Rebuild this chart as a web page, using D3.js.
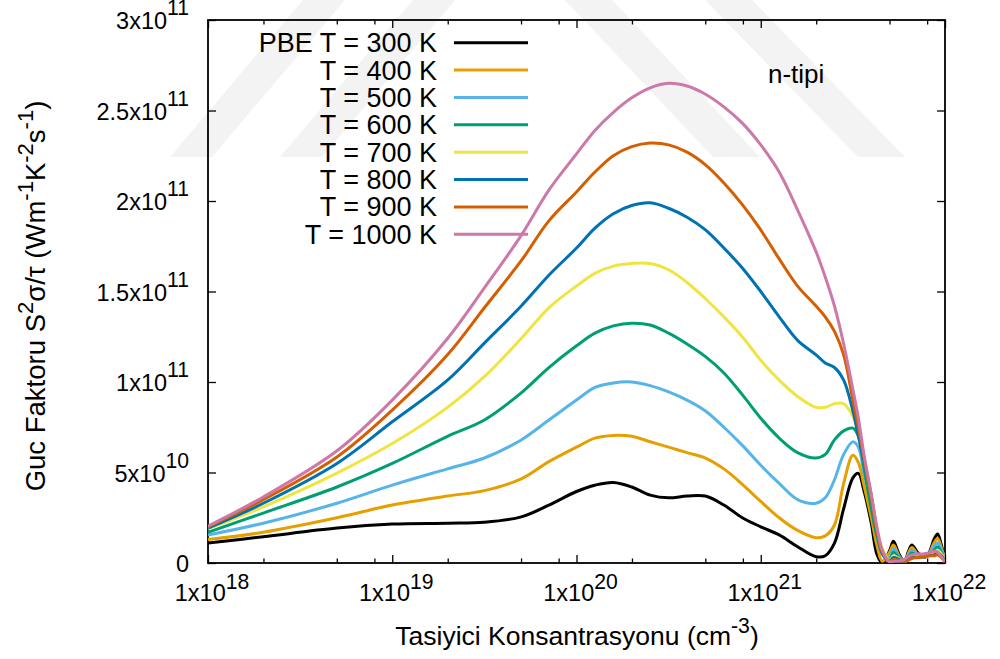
<!DOCTYPE html>
<html>
<head>
<meta charset="utf-8">
<script src="https://cdn.jsdelivr.net/npm/d3@7/dist/d3.min.js"></script>
<style>
  body { margin: 0; background: #fff; }
  text { font-family: "Liberation Sans", Arial, Helvetica, sans-serif; fill: #000; }
</style>
</head>
<body>
<div id="chart"></div>
<script>
// carrier concentration, as log10(n / cm^-3)
var logN = [18.0, 18.3, 18.7, 19.0, 19.3, 19.5, 19.7, 19.85, 20.0, 20.1,
  20.2, 20.3, 20.4, 20.5, 20.6, 20.7, 20.8, 20.9, 21.0, 21.1,
  21.2, 21.3, 21.35, 21.4, 21.45, 21.5, 21.53, 21.56, 21.6, 21.63,
  21.66, 21.7, 21.72, 21.75, 21.78, 21.8, 21.82, 21.85, 21.88, 21.91,
  21.94, 21.96, 21.98, 22.0];

// power factor S^2 sigma / tau, in units of 1e10
var pf300 = [1.1, 1.45, 1.93, 2.15, 2.2, 2.25, 2.55, 3.2, 3.95, 4.3,
  4.45, 4.2, 3.75, 3.6, 3.7, 3.7, 3.2, 2.5, 2.0, 1.55,
  0.9, 0.35, 0.4, 1.1, 3.0, 4.7, 4.95, 4.0, 2.2, 0.5,
  0.0, 0.7, 1.2, 0.5, 0.05, 0.6, 1.0, 0.6, 0.3, 0.5,
  1.3, 1.6, 1.0, 0.2];
var pf400 = [1.3, 1.7, 2.5, 3.2, 3.7, 4.0, 4.65, 5.6, 6.4, 6.9,
  7.05, 7.0, 6.7, 6.4, 6.1, 5.8, 5.2, 4.35, 3.4, 2.5,
  1.8, 1.4, 1.5, 2.1, 4.4, 5.95, 5.55, 4.3, 2.5, 1.0,
  0.1, 0.6, 1.0, 0.4, 0.05, 0.5, 0.85, 0.5, 0.3, 0.45,
  1.1, 1.35, 0.85, 0.2];
var pf500 = [1.55, 2.2, 3.3, 4.3, 5.2, 5.8, 6.8, 7.9, 9.0, 9.7,
  9.95, 10.0, 9.8, 9.45, 9.0, 8.4, 7.5, 6.5, 5.4, 4.4,
  3.5, 3.3, 3.6, 4.6, 6.0, 6.7, 6.4, 5.0, 3.2, 1.5,
  0.5, 0.3, 0.8, 0.35, 0.05, 0.4, 0.7, 0.45, 0.35, 0.45,
  0.9, 1.1, 0.75, 0.2];
var pf600 = [1.7, 2.76, 4.2, 5.5, 7.0, 7.9, 9.4, 10.8, 12.0, 12.7,
  13.1, 13.25, 13.15, 12.7, 12.1, 11.4, 10.5, 9.3, 8.0, 6.9,
  6.1, 5.8, 6.0, 6.8, 7.3, 7.45, 7.0, 5.3, 3.0, 1.5,
  0.6, 0.2, 0.6, 0.3, 0.05, 0.3, 0.55, 0.4, 0.35, 0.4,
  0.7, 0.9, 0.6, 0.2];
var pf700 = [1.88, 3.1, 4.97, 6.6, 8.6, 10.3, 12.4, 14.1, 15.3, 16.0,
  16.4, 16.55, 16.55, 16.2, 15.5, 14.6, 13.6, 12.5, 11.2, 10.1,
  9.2, 8.6, 8.6, 8.8, 8.8, 8.1, 7.3, 5.7, 3.7, 2.0,
  0.8, 0.15, 0.4, 0.25, 0.05, 0.25, 0.4, 0.35, 0.35, 0.4,
  0.55, 0.7, 0.5, 0.2];
var pf800 = [1.93, 3.3, 5.5, 7.8, 10.1, 12.15, 14.2, 15.9, 17.4, 18.5,
  19.3, 19.75, 19.9, 19.6, 19.1, 18.4, 17.4, 16.3, 15.0, 13.6,
  12.3, 11.5, 11.05, 10.8, 10.1, 8.4, 7.0, 5.6, 3.7, 1.8,
  0.5, 0.1, 0.3, 0.2, 0.05, 0.2, 0.3, 0.3, 0.35, 0.4,
  0.45, 0.55, 0.4, 0.15];
var pf900 = [2.0, 3.5, 5.86, 8.45, 11.5, 14.1, 16.7, 18.9, 20.5, 21.6,
  22.5, 23.0, 23.2, 23.1, 22.7, 22.0, 21.0, 19.8, 18.4, 16.8,
  15.3, 14.2, 13.6, 12.8, 11.5, 9.0, 7.5, 5.8, 3.6, 1.8,
  0.6, 0.1, 0.2, 0.15, 0.1, 0.15, 0.25, 0.3, 0.35, 0.4,
  0.4, 0.45, 0.3, 0.1];
var pf1000 = [2.04, 3.65, 6.2, 9.0, 12.4, 15.2, 18.1, 20.6, 22.6, 23.9,
  24.9, 25.7, 26.25, 26.5, 26.35, 25.9, 25.2, 24.3, 23.1, 21.6,
  19.5, 17.2, 15.8, 14.2, 12.1, 9.6, 8.0, 6.0, 3.8, 2.0,
  0.7, 0.05, 0.1, 0.1, 0.2, 0.35, 0.45, 0.5, 0.5, 0.55,
  0.65, 0.6, 0.35, 0.05];

var seriesValues = [pf300, pf400, pf500, pf600, pf700, pf800, pf900, pf1000];
var seriesNames = ["PBE T = 300 K", "T = 400 K", "T = 500 K", "T = 600 K",
  "T = 700 K", "T = 800 K", "T = 900 K", "T = 1000 K"];
var seriesColors = ["#000000", "#e69f00", "#56b4e9", "#009e73",
  "#f0e442", "#0072b2", "#d55e00", "#cc79a7"];

var yTicks = [0, 5e10, 1e11, 1.5e11, 2e11, 2.5e11, 3e11];
var yTickLabels = [["0", ""], ["5x10", "10"], ["1x10", "11"], ["1.5x10", "11"],
  ["2x10", "11"], ["2.5x10", "11"], ["3x10", "11"]];
var xTicks = [1e18, 1e19, 1e20, 1e21, 1e22];
var xTickLabels = [["1x10", "18"], ["1x10", "19"], ["1x10", "20"], ["1x10", "21"], ["1x10", "22"]];
var xMinorSteps = [2, 5, 8];

var xTitle = [["Tasiyici Konsantrasyonu (cm", 0], ["-3", 1], [")", 0]];
var yTitle = [["Guc Faktoru S", 0], ["2", 1], ["σ/τ (Wm", 0], ["-1", 1], ["K", 0],
  ["-2", 1], ["s", 0], ["-1", 1], [")", 0]];
var annotation = "n-tipi";

// faint background watermark bands (page pixels)
var watermark = [
  [[170, 157], [212, 157], [345, 0], [303, 0]],
  [[280, 157], [322, 157], [455, 0], [413, 0]],
  [[565, 0], [612, 0], [760, 157], [713, 157]],
  [[705, 0], [752, 0], [905, 157], [858, 157]]
];

var config = {
  "width": 1000,
  "height": 659,
  "left": 208,
  "right": 945,
  "top": 20,
  "bottom": 563
};

window.addEventListener("DOMContentLoaded", main);

function main() {
  const svg = d3.select("#chart")
    .append("svg")
    .attr("width", config.width)
    .attr("height", config.height);

  const x = d3.scaleLog()
    .domain([1e18, 1e22])
    .range([config.left, config.right]);
  const y = d3.scaleLinear()
    .domain([0, 3e11])
    .range([config.bottom, config.top]);

  svg.append("g")
    .selectAll("polygon")
    .data(watermark)
    .enter()
    .append("polygon")
    .attr("points", function(d) { return d.map(function(p) { return p.join(","); }).join(" "); })
    .attr("fill", "#f3f3f3");

  drawAxes(svg, x, y);
  drawCurves(svg, x, y);
  drawLegend(svg);
  drawTitles(svg);
}

// text with gnuplot style superscripts
function richText(sel, parts, size, supScale, supRaise) {
  var offset = 0;
  parts.forEach(function(p) {
    var sup = p[1] == 1;
    var target = sup ? -size * supRaise : 0;
    sel.append("tspan")
      .attr("dy", target - offset)
      .style("font-size", (sup ? size * supScale : size) + "px")
      .text(p[0]);
    offset = target;
  });
}

function drawAxes(svg, x, y) {
  const minor = [];
  xTicks.slice(0, -1).forEach(function(t) {
    xMinorSteps.forEach(function(m) { minor.push(t * m); });
  });

  const axes = [
    [d3.axisBottom(x), "translate(0," + config.bottom + ")"],
    [d3.axisTop(x), "translate(0," + config.top + ")"]
  ];
  axes.forEach(function(a) {
    svg.append("g").attr("transform", a[1])
      .call(a[0].tickValues(xTicks).tickSize(-8).tickFormat(""));
    svg.append("g").attr("transform", a[1])
      .call(a[0].tickValues(minor).tickSize(-4.5).tickFormat(""));
  });
  svg.append("g").attr("transform", "translate(" + config.left + ",0)")
    .call(d3.axisLeft(y).tickValues(yTicks).tickSize(-8).tickFormat(""));
  svg.append("g").attr("transform", "translate(" + config.right + ",0)")
    .call(d3.axisRight(y).tickValues(yTicks).tickSize(-8).tickFormat(""));

  svg.selectAll(".domain").remove();
  svg.selectAll(".tick line").attr("stroke", "#000").attr("stroke-width", 1.3);

  // frame
  svg.append("rect")
    .attr("x", config.left)
    .attr("y", config.top)
    .attr("width", config.right - config.left)
    .attr("height", config.bottom - config.top)
    .attr("fill", "none")
    .attr("stroke", "#000")
    .attr("stroke-width", 1.8);

  // tick labels
  xTicks.forEach(function(t, i) {
    var txt = svg.append("text")
      .attr("x", x(t) + 4)
      .attr("y", 601)
      .attr("text-anchor", "middle");
    richText(txt, [[xTickLabels[i][0], 0], [xTickLabels[i][1], 1]], 23.5, 0.9, 0.5);
  });
  yTicks.forEach(function(t, i) {
    var txt = svg.append("text")
      .attr("x", 189)
      .attr("y", y(t) + 9)
      .attr("text-anchor", "end");
    var parts = [[yTickLabels[i][0], 0]];
    if (yTickLabels[i][1] != "") parts.push([yTickLabels[i][1], 1]);
    richText(txt, parts, 23.5, 0.9, 0.58);
  });
}

function drawCurves(svg, x, y) {
  svg.append("clipPath")
    .attr("id", "plotClip")
    .append("rect")
    .attr("x", config.left)
    .attr("y", config.top)
    .attr("width", config.right - config.left)
    .attr("height", config.bottom - config.top);

  const line = d3.line()
    .x(function(d) { return x(Math.pow(10, d[0])); })
    .y(function(d) { return y(d[1] * 1e10); })
    .curve(d3.curveCatmullRom.alpha(0.5));

  const g = svg.append("g").attr("clip-path", "url(#plotClip)");
  seriesValues.forEach(function(vals, i) {
    g.append("path")
      .datum(logN.map(function(l, j) { return [l, vals[j]]; }))
      .attr("d", line)
      .attr("fill", "none")
      .attr("stroke", seriesColors[i])
      .attr("stroke-width", 3)
      .attr("stroke-linejoin", "round");
  });
}

function drawLegend(svg) {
  const rows = svg.append("g")
    .selectAll("g")
    .data(seriesNames)
    .enter()
    .append("g")
    .attr("transform", function(d, i) { return "translate(0," + (42.7 + i * 27.37) + ")"; });

  rows.append("text")
    .attr("x", 437)
    .attr("y", 9.5)
    .attr("text-anchor", "end")
    .style("font-size", "27px")
    .text(function(d) { return d; });

  rows.append("line")
    .attr("x1", 454)
    .attr("x2", 528)
    .attr("stroke", function(d, i) { return seriesColors[i]; })
    .attr("stroke-width", 3);
}

function drawTitles(svg) {
  var xt = svg.append("text")
    .attr("x", 577)
    .attr("y", 645)
    .attr("text-anchor", "middle");
  richText(xt, xTitle, 26.5, 0.8, 0.45);

  var yt = svg.append("text")
    .attr("transform", "translate(45,296) rotate(-90)")
    .attr("text-anchor", "middle");
  richText(yt, yTitle, 27.5, 0.8, 0.45);

  svg.append("text")
    .attr("x", 768)
    .attr("y", 83)
    .style("font-size", "26px")
    .text(annotation);
}
</script>
</body>
</html>
